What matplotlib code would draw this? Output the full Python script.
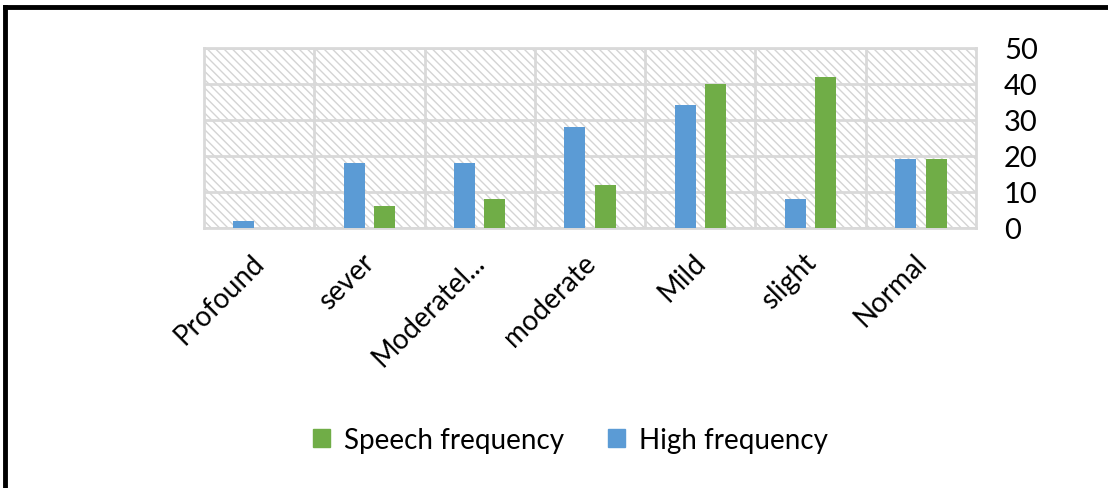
import matplotlib
matplotlib.use("Agg")
import matplotlib.pyplot as plt
import matplotlib.transforms as mtransforms
from matplotlib.patches import Rectangle, Patch
import numpy as np

categories = ["Profound", "sever", "Moderatel...", "moderate", "Mild", "slight", "Normal"]
high_freq = [2, 18, 18, 28, 34, 8, 19]
speech_freq = [0, 6, 8, 12, 40, 42, 19]
y_ticks = [0, 10, 20, 30, 40, 50]

BLUE = "#5B9BD5"
GREEN = "#70AD47"
GRID = "#d9d9d9"

plt.rcParams["font.family"] = ["Lato", "DejaVu Sans"]
plt.rcParams["hatch.linewidth"] = 1.0
plt.rcParams["hatch.color"] = "#d4d4d4"

fig = plt.figure(figsize=(11.08, 4.89), dpi=100)
ax = fig.add_axes([0.184, 0.532, 0.697, 0.368])

# hatched plot background
ax.add_patch(Rectangle((0, 0), 1, 1, transform=ax.transAxes, facecolor="white",
                       edgecolor="#d4d4d4", hatch="\\\\\\\\", linewidth=0, zorder=0))

x = np.arange(len(categories))
w = 0.19
gap = 0.085
ax.bar(x - (w + gap) / 2, high_freq, width=w, color=BLUE, zorder=3, label="High frequency")
ax.bar(x + (w + gap) / 2, speech_freq, width=w, color=GREEN, zorder=3, label="Speech frequency")

ax.set_xlim(-0.5, len(categories) - 0.5)
ax.set_ylim(0, 50)
ax.set_yticks(y_ticks)
ax.yaxis.tick_right()
ax.tick_params(axis="y", length=0, labelsize=21, pad=20)
for lbl in ax.get_yticklabels():
    lbl.set_horizontalalignment("left")
ax.tick_params(axis="x", length=0, labelsize=20, pad=15)
ax.set_xticks(x)
ax.set_xticklabels(categories, rotation=45, ha="right", rotation_mode="anchor")
shift = mtransforms.ScaledTranslation(-8 / 100, 0, fig.dpi_scale_trans)
for lbl in ax.get_xticklabels():
    lbl.set_transform(lbl.get_transform() + shift)

# category separators and horizontal gridlines
for xv in np.arange(0.5, len(categories) - 0.5, 1):
    ax.axvline(xv, color=GRID, linewidth=2, zorder=1)
for yv in y_ticks:
    ax.axhline(yv, color=GRID, linewidth=2, zorder=1)
for s in ax.spines.values():
    s.set_color(GRID)
    s.set_linewidth(2)

handles = [Patch(color=GREEN, label="Speech frequency"), Patch(color=BLUE, label="High frequency")]
fig.legend(handles=handles, loc="center", bbox_to_anchor=(0.515, 0.098), ncol=2, frameon=False,
           fontsize=20, handlelength=0.6, handleheight=0.6, handletextpad=0.5, columnspacing=1.6)

# outer frame (top and left edges)
fig.add_artist(plt.Line2D([0.0045, 1.0], [0.983, 0.983], transform=fig.transFigure, color="black", linewidth=3.5))
fig.add_artist(plt.Line2D([0.0045, 0.0045], [0.0, 0.983], transform=fig.transFigure, color="black", linewidth=3.5))

fig.savefig("out.png", dpi=100)
